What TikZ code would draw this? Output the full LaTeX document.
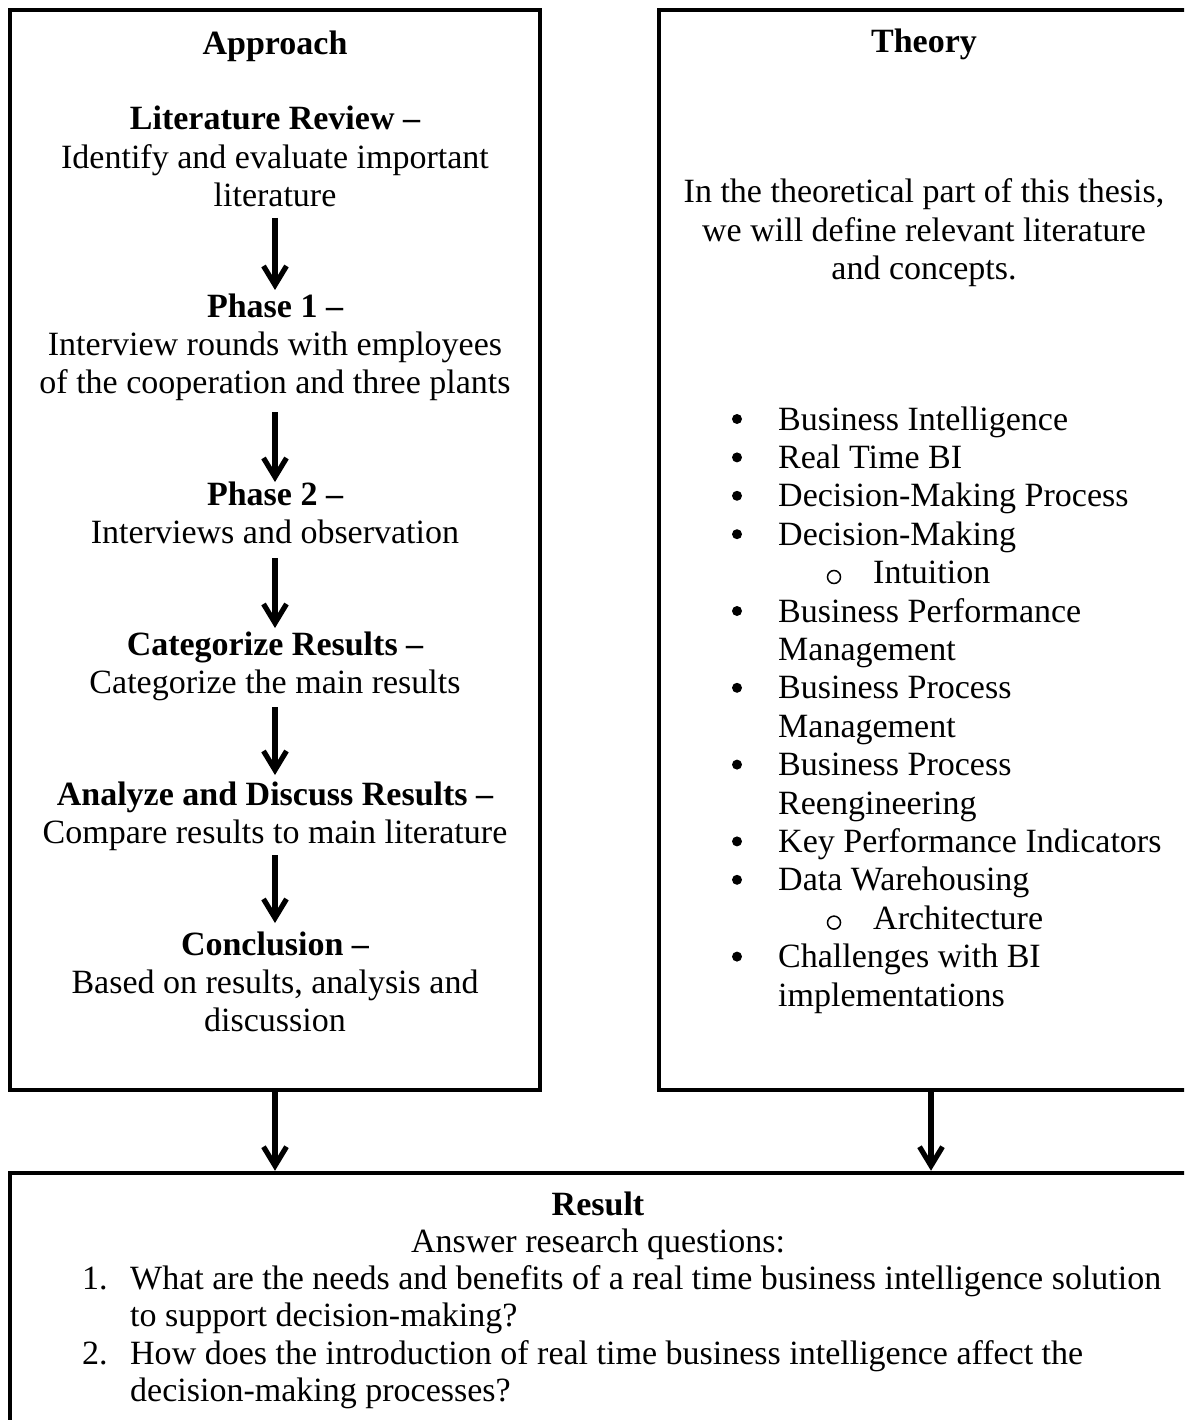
\documentclass[tikz,border=0pt]{standalone}
\usepackage{fontspec}
\setmainfont{Liberation Serif}
\usetikzlibrary{arrows.meta}
\begin{document}
\begin{tikzpicture}[x=1pt,y=-1pt,
  txt/.style={font=\fontsize{34}{38.4}\selectfont, anchor=base, inner sep=0pt},
  hd/.style={font=\fontsize{34}{38.4}\selectfont\bfseries, anchor=base, inner sep=0pt},
  lt/.style={txt, anchor=base west},
  frame/.style={draw, line width=4.5pt, rectangle, inner sep=0pt},
  arr/.style={line width=5.2pt, -{Straight Barb[length=19pt,width=23pt]}},
  dotb/.style={circle, fill, inner sep=0pt, minimum size=10pt},
  ringb/.style={circle, draw, line width=1.5pt, inner sep=0pt, minimum size=13pt}
]
\useasboundingbox (0,0) rectangle (1184,1420);
\clip (0,0) rectangle (1184,1420);

% frames
\node[frame, minimum width=530pt, minimum height=1080pt] (lbox) at (275,550) {};
\node[frame, minimum width=544pt, minimum height=1080pt] (rbox) at (931,550) {};
\node[frame, minimum width=1190pt, minimum height=277pt] (bbox) at (605,1311.5) {};

% left column
\node[hd]  (apr) at (275,55) {Approach};
\node[hd]  (lr1) at (275,130) {Literature Review –};
\node[txt] (lr2) at (275,168.4) {Identify and evaluate important};
\node[txt] (lr3) at (275,206.8) {literature};
\node[hd]  (p11) at (275,317) {Phase 1 –};
\node[txt] (p12) at (275,355.4) {Interview rounds with employees};
\node[txt] (p13) at (275,393.8) {of the cooperation and three plants};
\node[hd]  (p21) at (275,505) {Phase 2 –};
\node[txt] (p22) at (275,543.4) {Interviews and observation};
\node[hd]  (cr1) at (275,655) {Categorize Results –};
\node[txt] (cr2) at (275,693.4) {Categorize the main results};
\node[hd]  (ad1) at (275,805) {Analyze and Discuss Results –};
\node[txt] (ad2) at (275,843.4) {Compare results to main literature};
\node[hd]  (co1) at (275,955) {Conclusion –};
\node[txt] (co2) at (275,993.4) {Based on results, analysis and};
\node[txt] (co3) at (275,1031.8) {discussion};

\coordinate (a1s) at (275,218); \coordinate (a1e) at (275,290);
\coordinate (a2s) at (275,412); \coordinate (a2e) at (275,482);
\coordinate (a3s) at (275,558); \coordinate (a3e) at (275,628);
\coordinate (a4s) at (275,707); \coordinate (a4e) at (275,775);
\coordinate (a5s) at (275,855); \coordinate (a5e) at (275,923);
\draw[arr] (a1s) -- (a1e);
\draw[arr] (a2s) -- (a2e);
\draw[arr] (a3s) -- (a3e);
\draw[arr] (a4s) -- (a4e);
\draw[arr] (a5s) -- (a5e);

% right column
\node[hd]  (th)  at (924,53) {Theory};
\node[txt] (th1) at (924,203) {In the theoretical part of this thesis,};
\node[txt] (th2) at (924,241.4) {we will define relevant literature};
\node[txt] (th3) at (924,279.8) {and concepts.};

\node[lt] (l0)  at (778,430)    {Business Intelligence};
\node[lt] (l1)  at (778,468.4)  {Real Time BI};
\node[lt] (l2)  at (778,506.8)  {Decision-Making Process};
\node[lt] (l3)  at (778,545.2)  {Decision-Making};
\node[lt] (l4)  at (873,583.6)  {Intuition};
\node[lt] (l5)  at (778,622)    {Business Performance};
\node[lt] (l6)  at (778,660.4)  {Management};
\node[lt] (l7)  at (778,698.8)  {Business Process};
\node[lt] (l8)  at (778,737.2)  {Management};
\node[lt] (l9)  at (778,775.6)  {Business Process};
\node[lt] (l10) at (778,814)    {Reengineering};
\node[lt] (l11) at (778,852.4)  {Key Performance Indicators};
\node[lt] (l12) at (778,890.8)  {Data Warehousing};
\node[lt] (l13) at (873,929.2)  {Architecture};
\node[lt] (l14) at (778,967.6)  {Challenges with BI};
\node[lt] (l15) at (778,1006)   {implementations};

\node[dotb] (d0)  at (737,419) {};
\node[dotb] (d1)  at (737,457.4) {};
\node[dotb] (d2)  at (737,495.8) {};
\node[dotb] (d3)  at (737,534.2) {};
\node[ringb] (r4) at (834,577) {};
\node[dotb] (d5)  at (737,611) {};
\node[dotb] (d7)  at (737,687.8) {};
\node[dotb] (d9)  at (737,764.6) {};
\node[dotb] (d11) at (737,841.4) {};
\node[dotb] (d12) at (737,879.8) {};
\node[ringb] (r13) at (834,922.6) {};
\node[dotb] (d14) at (737,956.6) {};

% bottom box
\node[hd]  (res) at (598,1215) {Result};
\node[txt] (ans) at (598,1252.3) {Answer research questions:};
\node[lt]  (n1)  at (82,1289.6) {1.};
\node[lt]  (q1a) at (130,1289.6) {What are the needs and benefits of a real time business intelligence solution};
\node[lt]  (q1b) at (130,1326.9) {to support decision-making?};
\node[lt]  (n2)  at (82,1364.2) {2.};
\node[lt]  (q2a) at (130,1364.2) {How does the introduction of real time business intelligence affect the};
\node[lt]  (q2b) at (130,1401.5) {decision-making processes?};

% connectors between frames
\draw[arr] (lbox.south) -- (lbox.south |- bbox.north);
\draw[arr] (rbox.south) -- (rbox.south |- bbox.north);
\end{tikzpicture}
\end{document}
